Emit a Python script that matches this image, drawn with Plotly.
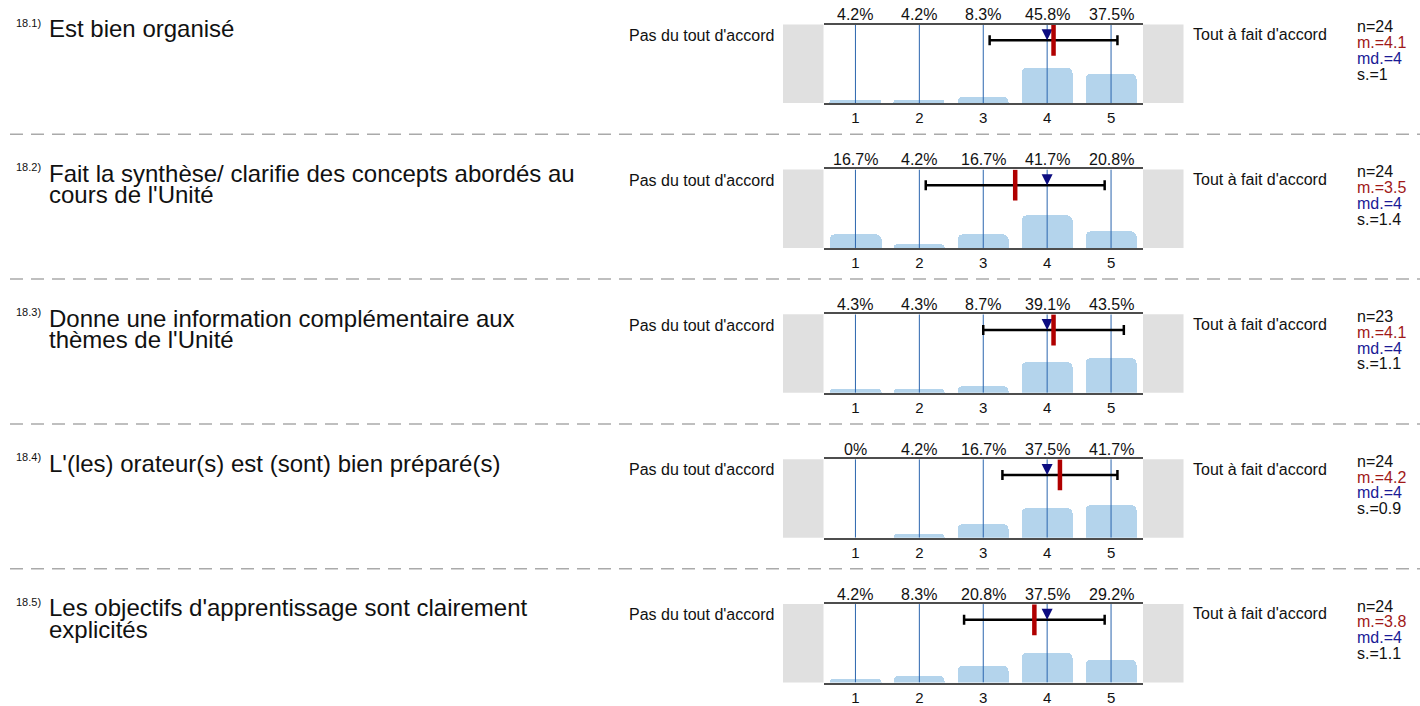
import plotly.graph_objects as go

# ---- data -------------------------------------------------------------
codes = ["18.1)", "18.2)", "18.3)", "18.4)", "18.5)"]
titles = [
    ["Est bien organisé"],
    ["Fait la synthèse/ clarifie des concepts abordés au", "cours de l'Unité"],
    ["Donne une information complémentaire aux", "thèmes de l'Unité"],
    ["L'(les) orateur(s) est (sont) bien préparé(s)"],
    ["Les objectifs d'apprentissage sont clairement", "explicités"],
]
scale_points = [1, 2, 3, 4, 5]

pct_q1 = [4.2, 4.2, 8.3, 45.8, 37.5]
pct_q2 = [16.7, 4.2, 16.7, 41.7, 20.8]
pct_q3 = [4.3, 4.3, 8.7, 39.1, 43.5]
pct_q4 = [0, 4.2, 16.7, 37.5, 41.7]
pct_q5 = [4.2, 8.3, 20.8, 37.5, 29.2]
percentages = [pct_q1, pct_q2, pct_q3, pct_q4, pct_q5]

n_resp = [24, 24, 23, 24, 24]
means = [4.1, 3.5, 4.1, 4.2, 3.8]
medians = [4, 4, 4, 4, 4]
std_devs = [1, 1.4, 1.1, 0.9, 1.1]

left_label = "Pas du tout d'accord"
right_label = "Tout à fait d'accord"

# ---- layout helpers (pixel based) ------------------------------------
W, H = 1420, 706
PERIOD = 147.6
FONT = "Liberation Sans, Arial, Helvetica, sans-serif"
LABEL_SIZE = 16
TICK_SIZE = 15
TITLE_SIZE = 24
TITLE_LINE_STEP = 22
BAR_COLOR = "#b4d4ec"
GRID_BLUE = "#2b65ae"
AXIS_COLOR = "#4d4d4d"
BOX_GRAY = "#e0e0e0"
MEAN_RED = "#b00000"
MEDIAN_BLUE = "#0c0c80"
STAT_RED = "#a01818"
STAT_BLUE = "#1a1a96"

PLOT_X0, PLOT_X1 = 823.5, 1143.0
BOX_W = 40.5
MARK_Y = 80  # height of the mean/sd indicator, in % of the panel


def fx(p):
    return p / W


def fy(p):
    return 1 - p / H


fig = go.Figure()
annotations = []
shapes = []

for k in range(5):
    off = PERIOD * k
    top = 25 + off
    bot = 105 + off
    xa = "x" if k == 0 else f"x{k + 1}"
    ya = "y" if k == 0 else f"y{k + 1}"
    xkey = "xaxis" if k == 0 else f"xaxis{k + 1}"
    ykey = "yaxis" if k == 0 else f"yaxis{k + 1}"

    fig.update_layout({
        xkey: dict(
            domain=[fx(PLOT_X0), fx(PLOT_X1)], range=[0.5, 5.5], anchor=ya,
            tickvals=scale_points, ticktext=[str(s) for s in scale_points],
            showline=True, mirror=True, linecolor=AXIS_COLOR, linewidth=2,
            showgrid=False, zeroline=False, fixedrange=True,
            ticks="", ticklen=0,
            tickfont=dict(family=FONT, size=TICK_SIZE, color="#111"),
        ),
        ykey: dict(
            domain=[fy(bot), fy(top)], range=[0, 100], anchor=xa,
            visible=False, fixedrange=True,
        ),
    })

    # distribution bars
    fig.add_trace(go.Bar(
        x=scale_points, y=percentages[k], width=0.8, xaxis=xa, yaxis=ya,
        marker=dict(color=BAR_COLOR, cornerradius=5, line=dict(width=0)),
        hoverinfo="skip", showlegend=False,
    ))

    # vertical guide lines at each scale point
    gx, gy = [], []
    for s in scale_points:
        gx += [s, s, None]
        gy += [0, 100, None]
    fig.add_trace(go.Scatter(
        x=gx, y=gy, mode="lines", xaxis=xa, yaxis=ya,
        line=dict(color=GRID_BLUE, width=1), hoverinfo="skip", showlegend=False,
    ))

    # mean +/- standard deviation
    fig.add_trace(go.Scatter(
        x=[means[k]], y=[MARK_Y], mode="markers", xaxis=xa, yaxis=ya,
        marker=dict(size=1, opacity=0),
        error_x=dict(type="data", array=[std_devs[k]], color="black",
                     thickness=2.5, width=5),
        hoverinfo="skip", showlegend=False,
    ))

    # median
    fig.add_trace(go.Scatter(
        x=[medians[k]], y=[MARK_Y], mode="markers", xaxis=xa, yaxis=ya,
        marker=dict(symbol="arrow-down", size=11, color=MEDIAN_BLUE,
                    line=dict(width=0)),
        hoverinfo="skip", showlegend=False,
    ))

    # mean
    fig.add_trace(go.Scatter(
        x=[means[k]], y=[MARK_Y], mode="markers", xaxis=xa, yaxis=ya,
        marker=dict(symbol="line-ns", size=22,
                    line=dict(width=4.5, color=MEAN_RED)),
        hoverinfo="skip", showlegend=False,
    ))

    # percentage labels above the panel
    for s, v in zip(scale_points, percentages[k]):
        annotations.append(dict(
            x=s, y=1, xref=xa, yref=f"{ya} domain", yshift=10,
            text=f"{v:g}%", showarrow=False, xanchor="center", yanchor="middle",
            font=dict(family=FONT, size=LABEL_SIZE, color="#111"),
        ))

    # grey end boxes
    for x0, x1 in [(PLOT_X0 - BOX_W, PLOT_X0), (PLOT_X1, PLOT_X1 + BOX_W)]:
        shapes.append(dict(
            type="rect", xref="paper", yref="paper",
            x0=fx(x0), x1=fx(x1), y0=fy(bot), y1=fy(top),
            fillcolor=BOX_GRAY, line=dict(width=0), layer="below",
        ))

    # pole labels
    annotations.append(dict(
        x=fx(776), y=fy(36 + off), xref="paper", yref="paper",
        text=left_label, showarrow=False, xanchor="right", yanchor="middle",
        font=dict(family=FONT, size=LABEL_SIZE, color="#111"),
    ))
    annotations.append(dict(
        x=fx(1191), y=fy(35 + off), xref="paper", yref="paper",
        text=right_label, showarrow=False, xanchor="left", yanchor="middle",
        font=dict(family=FONT, size=LABEL_SIZE, color="#111"),
    ))

    # summary statistics
    stat_lines = [
        (f"n={n_resp[k]}", "#111"),
        (f"m.={means[k]:g}", STAT_RED),
        (f"md.={medians[k]:g}", STAT_BLUE),
        (f"s.={std_devs[k]:g}", "#111"),
    ]
    for i, (txt, col) in enumerate(stat_lines):
        annotations.append(dict(
            x=fx(1355), y=fy(27 + 16.2 * i + off), xref="paper", yref="paper",
            text=txt, showarrow=False, xanchor="left", yanchor="middle",
            font=dict(family=FONT, size=LABEL_SIZE, color=col),
        ))

    # question number and wording
    annotations.append(dict(
        x=fx(14), y=fy(23 + off), xref="paper", yref="paper",
        text=codes[k], showarrow=False, xanchor="left", yanchor="middle",
        font=dict(family=FONT, size=11, color="#111"),
    ))
    for j, line in enumerate(titles[k]):
        annotations.append(dict(
            x=fx(47), y=fy(29 + TITLE_LINE_STEP * j + off), xref="paper", yref="paper",
            text=line, showarrow=False, xanchor="left", yanchor="middle",
            font=dict(family=FONT, size=TITLE_SIZE, color="#111"),
        ))

    # dashed separator between questions
    if k < 4:
        sy = 136.7 + off
        shapes.append(dict(
            type="line", xref="paper", yref="paper",
            x0=fx(10), x1=1, y0=fy(sy), y1=fy(sy),
            line=dict(color="#aaaaaa", width=1.5, dash="13px,8px"),
        ))

fig.update_layout(
    width=W, height=H, margin=dict(l=0, r=0, t=0, b=0),
    paper_bgcolor="white", plot_bgcolor="white",
    bargap=0, showlegend=False,
    annotations=annotations, shapes=shapes,
    font=dict(family=FONT),
)

fig.write_html("out.html", config={"displayModeBar": False})
